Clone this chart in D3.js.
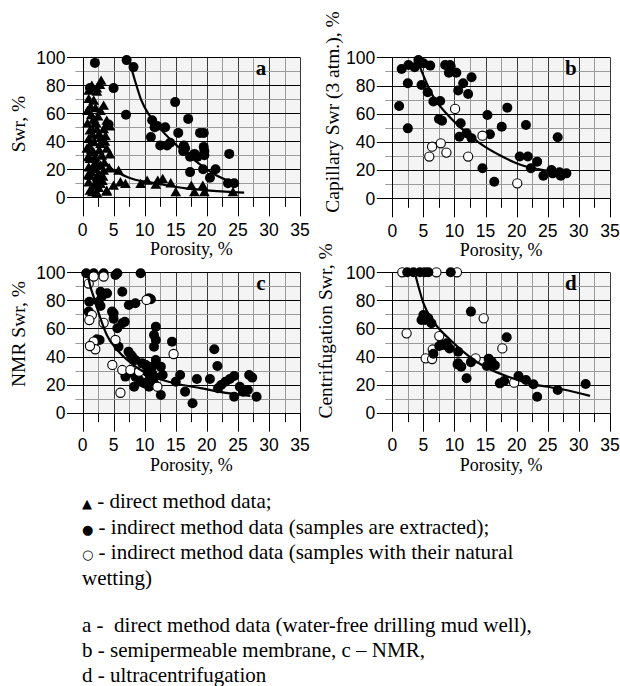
<!DOCTYPE html>
<html><head><meta charset="utf-8">
<script src="https://cdn.jsdelivr.net/npm/d3@7"></script>
<style>
body{margin:0;background:#fff}
svg text{white-space:pre}
</style></head><body>
<svg id="fig" width="620" height="686"></svg>
<script>
// ---- axis ticks and titles ----
const xTicks = [0, 5, 10, 15, 20, 25, 30, 35];
const yTicks = [0, 20, 40, 60, 80, 100];
const xTitle = "Porosity, %";

// ---- panel a: direct method (triangles) and extracted samples (filled) ----
const aTriangles = [
  [1.0,75.5],[1.5,79],[2.3,77],[2.8,79.5],[3.0,82.6],[1.0,69.5],[1.8,68.4],[2.3,74.7],[3.4,64.7],
  [0.8,61],[2.9,61],[1.8,55],[3.9,54],[4.4,50],[0.8,52],[1.2,47],[2.3,48],[3.4,48],[3.7,43],
  [1.0,41],[1.8,38.6],[2.9,37.4],[3.9,34],[0.7,34],[1.8,31.4],[3.1,29],[4.4,30],[1.2,26.7],
  [2.3,24.3],[2.9,22],[1.0,20.7],[2.0,19.5],[3.4,18.3],[4.3,20],[5.8,18.3],[1.2,14.7],[2.3,13.5],
  [1.0,10],[1.8,7.6],[2.9,8.8],[3.9,4],[1.2,4],[2.3,2.4],[1.6,3],[3.9,3.3],[5.0,7.6],[6.1,10],
  [6.9,8.8],[9.35,8.8],[10.4,11.2],[11.8,8.3],[12.1,11.2],[12.9,12.4],[14.2,9.3],[15.0,2.9],
  [17.5,7.6],[18.0,2.9],[19.35,7.6],[19.6,2.9],[24.2,2.9],[1.4,33],[2.6,44],[2.5,57],[1.3,64],
  [2.0,28],[1.5,17],[2.6,16],[3.2,11],[2.2,10],[1.4,58],[2.2,52],[3.0,42],[1.6,44],[2.7,33],
  [3.5,24],[1.8,22],[0.9,15],[2.6,6],[3.3,14],[1.1,36],[2.1,63],[3.6,39],[0.9,28]
];
const aFilled = [
  [2.0,96],[1.2,78],[5.0,78],[7.1,98],[8.2,93],[7.0,59],[4.2,52],[11.0,43],[11.2,55],[11.6,50],
  [12.0,51],[13.3,50],[14.9,68],[15.4,46],[12.5,37],[13.6,37],[14.1,39],[17.0,56],[16.3,37],
  [16.2,33],[16.5,35],[17.3,29],[18.0,31],[18.5,29],[17.3,18],[18.9,46],[19.5,46],[19.5,36],
  [19.6,33],[19.6,30],[19.4,20],[20.5,14],[21.4,20],[23.6,31],[23.4,10],[24.4,10]
];
const aTriangleFit = [
  [1.5,55],[2,42],[2.6,34],[3.5,26],[4.5,21],[6,17],[7.2,14.5],[8.5,12.5],[10.4,11],
  [13,9],[16.4,6.5],[20,5],[23,4],[26,3.3]
];
const aFilledFit = [
  [7.5,98],[8.4,84],[9.4,70],[10.7,59],[12.1,51],[14.8,38.5],[18,26.5],[21.2,16.5],[24.5,10]
];

// ---- panel b: capillary (semipermeable membrane) ----
const bFilled = [
  [1.1,65.5],[1.5,91.7],[2.6,94.6],[2.5,81.6],[2.5,49.6],[3.6,92.9],[4.2,98],[5.0,95.7],[6.1,94.1],
  [4.7,80.4],[5.7,75.2],[6.6,68.6],[7.7,69],[7.5,56.3],[8.0,55],[8.5,94.6],[9.3,94.6],[9.1,89],
  [10.3,89],[9.4,93.4],[10.6,76.4],[11.4,81.6],[12.75,85.8],[12.2,74],[11.0,53.2],[10.8,43.7],
  [11.95,46.1],[12.75,42.6],[14.5,21.3],[15.3,59.1],[15.7,45.4],[16.4,11.8],[17.6,50.8],[18.5,64.3],
  [20.5,29.6],[21.8,29.6],[21.5,52],[22.3,21.3],[23.3,26],[24.3,16],[25.6,20],[26.6,43.3],
  [26.9,18.4],[27.1,16],[28.0,17.7],[25.8,17.7]
];
const bOpen = [
  [5.95,29.6],[6.4,36.6],[7.8,39],[8.7,32.4],[10.1,63.4],[12.2,29.6],[14.5,44.4],[20.1,10.6]
];
const bFit = [
  [4.2,96],[5.2,85],[6.6,72],[8.75,60],[11.4,48.5],[14.1,39],[17.3,30.5],[20.5,24],[24.3,20],[27,18.5]
];

// ---- panel c: NMR ----
const cFilled = [
  [0.6,99.3],[1.8,99.3],[3.4,99.3],[5.3,98.1],[5.6,99.3],[9.35,99.3],
  [1.1,79],[2.9,86.2],[3.95,85],[3.1,82.7],[2.6,79],[2.9,76],[6.4,86.2],[7.45,76.7],[8.5,77.9],
  [10.7,81.5],[11.0,80.8],[1.0,72],[4.75,72],[5.0,70.8],[5.0,67],[6.4,63.7],[6.8,64.8],[5.6,60.1],
  [2.33,52.3],[2.75,51.8],[5.8,47],[7.4,43.5],[7.8,41],[8.0,39.9],[8.5,37.5],[9.6,35.2],[10.2,34],
  [10.4,32.8],[11.2,32.8],[10.4,29],[11.2,28],[10.7,23],[9.9,21],[11.5,25.7],[6.9,25.7],[8.3,18.5],
  [8.5,25.7],[9.35,22],[8.2,28],[9.0,24],[10.7,18.5],[11.5,20.9],[12.6,12.6],[11.8,61.3],
  [11.5,55.3],[11.8,51.8],[11.5,47],[14.4,50.6],[11.8,37.5],[12.6,32.8],[12.9,26.9],[15.7,26.9],
  [15.0,22.1],[16.5,15],[17.7,6.7],[18.4,24],[20.5,24],[21.2,45.2],[21.7,33.3],[21.8,17.4],
  [22.3,19.7],[23.0,22.1],[23.7,24],[24.4,26.1],[24.4,11.4],[25.3,18.5],[25.8,15],[26.8,26.9],
  [27.3,25],[26.6,16.2],[28.0,11.4]
];
const cOpen = [
  [1.0,92],[1.8,97],[3.4,97],[1.5,69.6],[1.1,66],[3.4,64],[1.8,50.6],[2.06,45.2],[1.2,47.5],
  [5.3,51.8],[4.8,34],[6.4,30.4],[7.7,30.4],[9.1,29.2],[6.1,14.2],[10.3,80.3],[12.05,18.5],[14.65,41.8]
];
const cFit = [
  [0.9,97],[1.25,90],[1.8,82.5],[2.9,67],[3.95,55],[5.6,44.7],[7.2,37.5],[9.35,30.4],[11.5,25.5],
  [14.8,21],[19,17.5],[23.4,14],[27,12]
];

// ---- panel d: ultracentrifugation ----
const dFilled = [
  [2.4,100],[3.4,100],[4.45,100],[5.2,100],[5.8,100],[9.4,100],
  [4.7,66],[5.0,69.6],[5.3,66],[5.8,67.2],[6.3,63.7],[6.6,42],[7.55,47.5],[7.9,48.2],[8.4,48.2],
  [8.75,49.4],[9.2,45.8],[10.6,43.4],[10.5,34.4],[10.6,35.2],[11.1,32.8],[11.95,24.5],[12.65,72],
  [12.65,36],[15.2,33.3],[15.5,38.5],[16.0,36.3],[16.5,33.7],[17.3,20.9],[18.0,22.6],[18.4,53.7],
  [20.3,26.1],[21.5,23.3],[22.7,20.2],[23.3,11.4],[26.6,16.2],[31.1,20.4]
];
const dOpen = [
  [1.6,100],[7.1,100],[10.4,100],[2.3,56.5],[5.36,38.7],[6.4,38.2],[6.5,45],[7.55,54.6],
  [13.4,38.7],[14.7,67.2],[17.7,45.8],[19.6,21.4]
];
const dFit = [
  [3.6,100],[4.2,90],[5.0,78],[6.6,65],[9.3,52],[12.4,40],[15.2,32],[18.4,26],[22.7,20],
  [25,18.5],[27.5,16.5],[31.8,12]
];

// ---- legend ----
const legendItems = [
  ["▲", " - direct method data;"],
  ["●", " - indirect method data (samples are extracted);"],
  ["○", " - indirect method data (samples with their natural"],
  ["", "wetting)"]
];
const legendNotes = [
  "a -  direct method data (water-free drilling mud well),",
  "b - semipermeable membrane, c – NMR,",
  "d - ultracentrifugation"
];

// ---- panel setup ----
const panels = [
  {letter:"a", title:"Swr, %", left:82.5, top:57.3, h:140, titleX:25, titleY:124,
   tri:aTriangles, filled:aFilled, open:[], fits:[aTriangleFit, aFilledFit], openOnTop:true},
  {letter:"b", title:"Capillary Swr (3 atm.), %", left:392.3, top:57.3, h:141, titleX:339, titleY:112,
   tri:[], filled:bFilled, open:bOpen, fits:[bFit], openOnTop:true},
  {letter:"c", title:"NMR Swr, %", left:82.5, top:272.3, h:140.4, titleX:25, titleY:334,
   tri:[], filled:cFilled, open:cOpen, fits:[cFit], openOnTop:true},
  {letter:"d", title:"Centrifugation Swr, %", left:392.3, top:272.3, h:140.4, titleX:332, titleY:331,
   tri:[], filled:dFilled, open:dOpen, fits:[dFit], openOnTop:false}
];
const W = 217.6;
const sans = "'Liberation Sans', Arial, sans-serif";
const serif = "'Liberation Serif', 'Times New Roman', serif";

const svg = d3.select("#fig");
svg.append("rect").attr("width",620).attr("height",686).attr("fill","#fff");

panels.forEach(p => {
  const x = d3.scaleLinear().domain([0,35]).range([p.left, p.left+W]);
  const y = d3.scaleLinear().domain([0,100]).range([p.top+p.h, p.top]);
  const g = svg.append("g");

  g.append("rect").attr("x",x(0)).attr("y",y(100)).attr("width",x(35)-x(0)).attr("height",y(0)-y(100))
    .attr("fill","#f4f4f4");

  // grid: every 2.5 % porosity and every 10 % saturation
  const xGrid = d3.range(0, 35.01, 2.5), yGrid = d3.range(0, 100.01, 10);
  const xMajor = v => Math.abs(v/5 - Math.round(v/5)) < 1e-6;
  const yMajor = v => Math.abs(v/20 - Math.round(v/20)) < 1e-6;
  g.selectAll(".vg").data(xGrid).join("line")
    .attr("x1",d=>Math.round(x(d))+0.5).attr("x2",d=>Math.round(x(d))+0.5)
    .attr("y1",y(100)).attr("y2",y(0))
    .attr("stroke",d => d===0 ? "#000" : (xMajor(d) ? "#3a3a3a" : "#9a9a9a"))
    .attr("stroke-width",1);
  g.selectAll(".hg").data(yGrid).join("line")
    .attr("y1",d=>Math.round(y(d))+0.5).attr("y2",d=>Math.round(y(d))+0.5)
    .attr("x1",d => x(0) - (yMajor(d) ? 15.5 : 7)).attr("x2",x(35))
    .attr("stroke",d => yMajor(d) ? "#000" : "#9a9a9a")
    .attr("stroke-width",1);
  // x ticks below the axis drawn black
  g.selectAll(".xt").data(xGrid).join("line")
    .attr("x1",d=>Math.round(x(d))+0.5).attr("x2",d=>Math.round(x(d))+0.5)
    .attr("y1",y(0)).attr("y2",d => y(0) + (xMajor(d) ? 19 : 9.5))
    .attr("stroke","#000");
  g.append("line").attr("x1",Math.round(x(0))+0.5).attr("x2",Math.round(x(0))+0.5)
    .attr("y1",y(100)).attr("y2",y(0)).attr("stroke","#000");

  // tick labels
  g.selectAll(".xl").data(xTicks).join("text")
    .attr("x",d=>x(d)).attr("y",y(0)+38.5).attr("text-anchor","middle")
    .attr("font-family",sans).attr("font-size",17.5).text(d=>d);
  g.selectAll(".yl").data(yTicks).join("text")
    .attr("x",x(0)-17).attr("y",d=>y(d)).attr("dy","0.36em").attr("text-anchor","end")
    .attr("font-family",sans).attr("font-size",17.5).text(d=>d);

  // axis titles
  g.append("text").attr("x",(x(0)+x(35))/2).attr("y",y(0)+58).attr("text-anchor","middle")
    .attr("font-family",serif).attr("font-size",18).text(xTitle);
  g.append("text").attr("transform",`translate(${p.titleX},${p.titleY}) rotate(-90)`)
    .attr("text-anchor","middle").attr("font-family",serif).attr("font-size",19.5).text(p.title);

  // panel letter
  g.append("text").attr("x",x(28.7)).attr("y",y(87.5)).attr("text-anchor","middle")
    .attr("font-family",serif).attr("font-weight","bold").attr("font-size",21).text(p.letter);

  // markers
  const tri = d3.symbol(d3.symbolTriangle, 50);
  g.selectAll(".tri").data(p.tri).join("path")
    .attr("d",tri).attr("transform",d=>`translate(${x(d[0])},${y(d[1])})`).attr("fill","#000");
  const drawFilled = () => g.selectAll(".fc").data(p.filled).join("circle")
    .attr("cx",d=>x(d[0])).attr("cy",d=>y(d[1])).attr("r",5).attr("fill","#000");
  const drawOpen = () => g.selectAll(".oc").data(p.open).join("circle")
    .attr("cx",d=>x(d[0])).attr("cy",d=>y(d[1])).attr("r",4.6)
    .attr("fill","#fff").attr("stroke","#000").attr("stroke-width",1.1);
  if (p.openOnTop) { drawFilled(); drawOpen(); } else { drawOpen(); drawFilled(); }

  // trend curves
  const line = d3.line().x(d=>x(d[0])).y(d=>y(d[1])).curve(d3.curveMonotoneX);
  p.fits.forEach(f => g.append("path").attr("d",line(f)).attr("fill","none")
    .attr("stroke","#000").attr("stroke-width",2.2));
});

// legend
const lg = svg.append("g").attr("font-family",serif).attr("font-size",21);
legendItems.forEach((row,i) => {
  const t = lg.append("text").attr("x",82).attr("y",508 + i*25.5);
  if (row[0]) t.append("tspan").attr("font-family","'DejaVu Sans', sans-serif").attr("font-size",13).text(row[0]);
  t.append("tspan").text(row[1]);
});
legendNotes.forEach((s,i) => {
  lg.append("text").attr("x",82).attr("y",632 + i*24.8).text(s);
});
</script>
</body></html>
